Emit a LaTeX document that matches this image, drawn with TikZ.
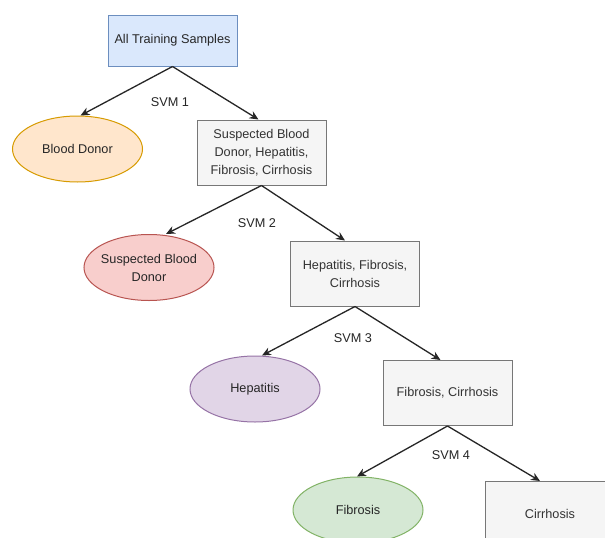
\documentclass[tikz,border=0pt]{standalone}
\usepackage{fontspec}
\setmainfont{Liberation Sans}
\usetikzlibrary{shapes.geometric,arrows.meta}
\definecolor{blueF}{HTML}{DAE8FC}\definecolor{blueD}{HTML}{6C8EBF}
\definecolor{orF}{HTML}{FFE6CC}\definecolor{orD}{HTML}{D79B00}
\definecolor{redF}{HTML}{F8CECC}\definecolor{redD}{HTML}{B85450}
\definecolor{purF}{HTML}{E1D5E7}\definecolor{purD}{HTML}{9673A6}
\definecolor{grnF}{HTML}{D5E8D4}\definecolor{grnD}{HTML}{82B366}
\definecolor{gryF}{HTML}{F5F5F5}\definecolor{gryD}{HTML}{777777}
\definecolor{gryT}{HTML}{333333}
\tikzset{
  base/.style={font=\fontsize{12.7}{18}\selectfont, align=center, inner sep=0pt, line width=1pt},
  graybox/.style={base, rectangle, fill=gryF, draw=gryD, text=gryT, minimum width=129pt, minimum height=65pt},
  leaf/.style={base, ellipse, minimum width=130pt, minimum height=66pt, text=black!85},
  conn/.style={line width=1.3pt, black!85, -{Stealth[length=9pt,width=8pt]}},
  svm/.style={font=\fontsize{12.7}{15}\selectfont, text=black!85, inner sep=0pt}
}
\begin{document}
\begin{tikzpicture}[x=1pt,y=-1pt]
\useasboundingbox (0,0) rectangle (605,538);
\clip (0,0) rectangle (605,538);
\fill[white] (0,0) rectangle (605,538);
\node[base, rectangle, fill=blueF, draw=blueD, minimum width=129pt, minimum height=51pt, text=black!85] (root) at (172.5,40.5) {All Training Samples};
\node[leaf, fill=orF, draw=orD] (bd) at (77.5,149) {Blood Donor};
\node[graybox] (b2) at (261.5,152.5) {Suspected Blood\\Donor, Hepatitis,\\Fibrosis, Cirrhosis};
\node[leaf, fill=redF, draw=redD] (sbd) at (149,267.5) {\makebox[0pt]{Suspected Blood}\\\makebox[0pt]{Donor}};
\node[graybox] (b3) at (355,273.5) {Hepatitis, Fibrosis,\\Cirrhosis};
\node[leaf, fill=purF, draw=purD] (hep) at (255,389) {Hepatitis};
\node[graybox] (b4) at (447.5,393) {Fibrosis, Cirrhosis};
\node[leaf, fill=grnF, draw=grnD] (fib) at (358,510) {Fibrosis};
\node[graybox, text width=129pt, anchor=north west] (cir) at (485,481) {Cirrhosis};
\node[svm] (s1) at (170,102) {SVM 1};
\node[svm] (s2) at (257,223) {SVM 2};
\node[svm] (s3) at (353,338) {SVM 3};
\node[svm] (s4) at (451,455) {SVM 4};
\draw[conn] (root.south) -- ([xshift=3pt]bd.north);
\draw[conn] (root.south) -- ([xshift=-3pt]b2.north);
\draw[conn] (b2.south) -- ([xshift=17pt]sbd.north);
\draw[conn] (b2.south) -- ([xshift=-10pt]b3.north);
\draw[conn] (b3.south) -- ([xshift=7pt]hep.north);
\draw[conn] (b3.south) -- ([xshift=-7pt]b4.north);
\draw[conn] (b4.south) -- ([xshift=-1pt]fib.north);
\draw[conn] (b4.south) -- ([xshift=-10pt]cir.north);
\end{tikzpicture}
\end{document}
